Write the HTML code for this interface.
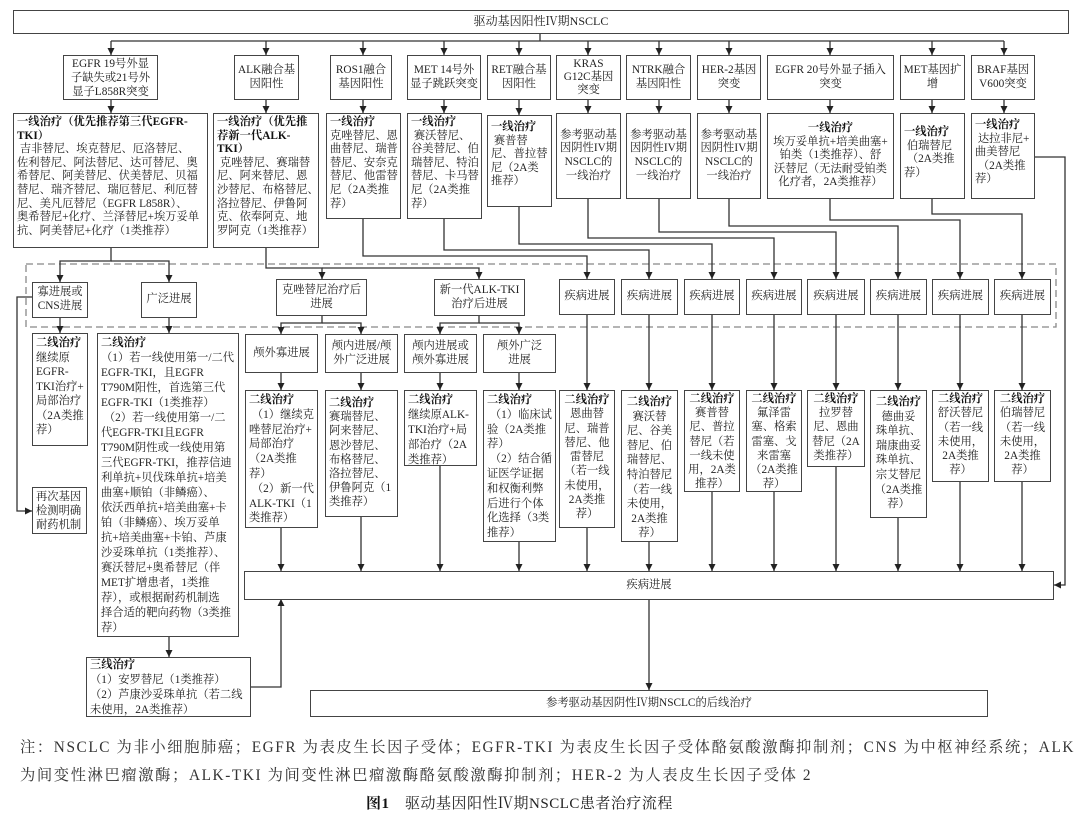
<!DOCTYPE html>
<html><head><meta charset="utf-8">
<style>
body{margin:0;width:1080px;height:818px;background:#fff;position:relative;overflow:hidden;font-family:"Liberation Serif","Noto Serif CJK SC","Noto Sans CJK SC",serif;color:#222}
.b{position:absolute;box-sizing:border-box;border:1.3px solid #444;background:#fff;font-size:11.3px;line-height:13.6px;padding:2px 3px;white-space:nowrap;overflow:hidden}
.c{text-align:center;display:flex;flex-direction:column;justify-content:center;align-items:center}
.t{text-align:center}
b{font-weight:bold;color:#111}
svg{position:absolute;left:0;top:0}
.n{position:absolute;left:20px;font-size:15.3px;white-space:nowrap;color:#333;letter-spacing:1.6px}
</style></head><body>
<svg width="1080" height="818">
<defs><marker id="a" markerWidth="8" markerHeight="8" refX="7" refY="4" orient="auto" markerUnits="userSpaceOnUse"><path d="M0,0.5 L7,4 L0,7.5 z" fill="#222"/></marker></defs>
<g stroke="#333" stroke-width="1.3" fill="none">
<rect x="26" y="264" width="1030" height="63" stroke="#888" stroke-dasharray="7,4"/>
<path d="M540 33V41M111 41H1004"/>
<g marker-end="url(#a)">
<path d="M111 41V55"/><path d="M266 41V55"/><path d="M363 41V55"/><path d="M444 41V55"/><path d="M519 41V55"/><path d="M588 41V55"/><path d="M659 41V55"/><path d="M729 41V55"/><path d="M830 41V55"/><path d="M932 41V55"/><path d="M1004 41V55"/>
<path d="M111 99V113"/><path d="M266 99V113"/><path d="M363 99V113"/><path d="M444 99V113"/><path d="M519 99V115"/><path d="M588 99V113"/><path d="M659 99V113"/><path d="M729 99V113"/><path d="M830 99V113"/><path d="M932 99V113"/><path d="M1004 99V113"/>
<path d="M111 248V261H60V282"/><path d="M111 261H169V282"/>
<path d="M266 248V268H322V279"/><path d="M322 268H479V279"/>
<path d="M60 318V333"/><path d="M169 318V333"/>
<path d="M32 297H17V511H32"/>
<path d="M322 316V323H281V334"/><path d="M322 323H361V334"/>
<path d="M479 316V323H440V334"/><path d="M479 323H519V334"/>
<path d="M281 373V390"/><path d="M361 373V390"/><path d="M440 373V390"/><path d="M519 373V390"/>
<path d="M281 528V571"/><path d="M361 517V571"/><path d="M440 466V571"/><path d="M519 542V571"/>
<path d="M169 637V657"/>
<path d="M251 687H281V599"/>
<path d="M363 219V256H587V279"/><path d="M444 219V250H649V279"/><path d="M519 207V244H712V279"/><path d="M588 199V238H774V279"/><path d="M659 199V232H836V279"/><path d="M729 199V226H898V279"/><path d="M830 199V220H960V279"/><path d="M932 199V214H1022V279"/>
<path d="M587 315V390"/><path d="M649 315V390"/><path d="M712 315V390"/><path d="M774 315V390"/><path d="M836 315V390"/><path d="M898 315V390"/><path d="M960 315V390"/><path d="M1022 315V390"/>
<path d="M587 528V571"/><path d="M649 542V571"/><path d="M712 492V571"/><path d="M774 492V571"/><path d="M836 467V571"/><path d="M898 518V571"/><path d="M960 482V571"/><path d="M1022 482V571"/>
<path d="M1035 157H1065V585H1054"/>
<path d="M649 599V690"/>
</g></g></svg>

<div class="b c" style="left:13px;top:10px;width:1056px;height:24px;font-size:12px">驱动基因阳性Ⅳ期NSCLC</div>

<div class="b c" style="left:63px;top:55px;width:95px;height:45px;line-height:14px">EGFR 19号外显<br>子缺失或21号外<br>显子L858R突变</div>
<div class="b c" style="left:234px;top:55px;width:65px;height:45px">ALK融合基<br>因阳性</div>
<div class="b c" style="left:330px;top:55px;width:62px;height:45px">ROS1融合<br>基因阳性</div>
<div class="b c" style="left:407px;top:55px;width:74px;height:45px">MET 14号外<br>显子跳跃突变</div>
<div class="b c" style="left:487px;top:55px;width:64px;height:45px">RET融合基<br>因阳性</div>
<div class="b c" style="left:556px;top:55px;width:65px;height:45px;line-height:13px">KRAS<br>G12C基因<br>突变</div>
<div class="b c" style="left:626px;top:55px;width:65px;height:45px">NTRK融合<br>基因阳性</div>
<div class="b c" style="left:697px;top:55px;width:64px;height:45px">HER-2基因<br>突变</div>
<div class="b c" style="left:767px;top:55px;width:127px;height:45px">EGFR 20号外显子插入<br>突变</div>
<div class="b c" style="left:900px;top:55px;width:65px;height:45px">MET基因扩<br>增</div>
<div class="b c" style="left:971px;top:55px;width:64px;height:45px">BRAF基因<br>V600突变</div>

<div class="b" style="left:13px;top:113px;width:195px;height:135px"><b>一线治疗（优先推荐第三代EGFR-<br>TKI）</b><br>&nbsp;吉非替尼、埃克替尼、厄洛替尼、<br>佐利替尼、阿法替尼、达可替尼、奥<br>希替尼、阿美替尼、伏美替尼、贝福<br>替尼、瑞齐替尼、瑞厄替尼、利厄替<br>尼、美凡厄替尼（EGFR L858R）、<br>奥希替尼+化疗、兰泽替尼+埃万妥单<br>抗、阿美替尼+化疗（1类推荐）</div>
<div class="b" style="left:213px;top:113px;width:106px;height:135px"><b>一线治疗（优先推<br>荐新一代ALK-<br>TKI）</b><br>&nbsp;克唑替尼、赛瑞替<br>尼、阿来替尼、恩<br>沙替尼、布格替尼、<br>洛拉替尼、伊鲁阿<br>克、依奉阿克、地<br>罗阿克（1类推荐）</div>
<div class="b" style="left:326px;top:113px;width:75px;height:106px"><b>一线治疗</b><br>克唑替尼、恩<br>曲替尼、瑞普<br>替尼、安奈克<br>替尼、他雷替<br>尼（2A类推<br>荐）</div>
<div class="b" style="left:407px;top:113px;width:75px;height:106px"><b>一线治疗</b><br>&nbsp;赛沃替尼、<br>谷美替尼、伯<br>瑞替尼、特泊<br>替尼、卡马替<br>尼（2A类推<br>荐）</div>
<div class="b" style="left:487px;top:115px;width:65px;height:92px;padding-top:5px"><b>一线治疗</b><br>&nbsp;赛普替<br>尼、普拉替<br>尼（2A类<br>推荐）</div>
<div class="b c" style="left:556px;top:113px;width:65px;height:86px">参考驱动基<br>因阴性IV期<br>NSCLC的<br>一线治疗</div>
<div class="b c" style="left:626px;top:113px;width:65px;height:86px">参考驱动基<br>因阴性IV期<br>NSCLC的<br>一线治疗</div>
<div class="b c" style="left:697px;top:113px;width:64px;height:86px">参考驱动基<br>因阴性IV期<br>NSCLC的<br>一线治疗</div>
<div class="b c" style="left:767px;top:113px;width:127px;height:86px"><b>一线治疗</b>埃万妥单抗+培美曲塞+<br>铂类（1类推荐）、舒<br>沃替尼（无法耐受铂类<br>化疗者，2A类推荐）</div>
<div class="b" style="left:900px;top:113px;width:65px;height:86px;padding-top:12px"><b>一线治疗</b><br>&nbsp;伯瑞替尼<br>&nbsp;（2A类推<br>荐）</div>
<div class="b" style="left:971px;top:113px;width:64px;height:86px;padding-top:5px"><b>一线治疗</b><br>&nbsp;达拉非尼+<br>曲美替尼<br>&nbsp;（2A类推<br>荐）</div>

<div class="b c" style="left:32px;top:282px;width:56px;height:36px">寡进展或<br>CNS进展</div>
<div class="b c" style="left:141px;top:282px;width:56px;height:36px">广泛进展</div>
<div class="b c" style="left:276px;top:279px;width:91px;height:37px">克唑替尼治疗后<br>进展</div>
<div class="b c" style="left:434px;top:279px;width:91px;height:37px">新一代ALK-TKI<br>治疗后进展</div>
<div class="b c" style="left:559px;top:279px;width:56px;height:36px">疾病进展</div>
<div class="b c" style="left:621px;top:279px;width:57px;height:36px">疾病进展</div>
<div class="b c" style="left:684px;top:279px;width:56px;height:36px">疾病进展</div>
<div class="b c" style="left:746px;top:279px;width:56px;height:36px">疾病进展</div>
<div class="b c" style="left:807px;top:279px;width:58px;height:36px">疾病进展</div>
<div class="b c" style="left:870px;top:279px;width:57px;height:36px">疾病进展</div>
<div class="b c" style="left:932px;top:279px;width:57px;height:36px">疾病进展</div>
<div class="b c" style="left:994px;top:279px;width:57px;height:36px">疾病进展</div>

<div class="b c" style="left:245px;top:334px;width:73px;height:39px">颅外寡进展</div>
<div class="b c" style="left:325px;top:334px;width:73px;height:39px">颅内进展/颅<br>外广泛进展</div>
<div class="b c" style="left:404px;top:334px;width:73px;height:39px">颅内进展或<br>颅外寡进展</div>
<div class="b c" style="left:483px;top:334px;width:73px;height:39px">颅外广泛<br>进展</div>

<div class="b" style="left:32px;top:333px;width:56px;height:113px;line-height:14.5px"><b>二线治疗</b><br>继续原<br>EGFR-<br>TKI治疗+<br>局部治疗<br>（2A类推<br>荐）</div>
<div class="b" style="left:97px;top:333px;width:142px;height:304px;line-height:15px"><b>二线治疗</b><br>（1）若一线使用第一/二代<br>EGFR-TKI，且EGFR<br>T790M阳性，首选第三代<br>EGFR-TKI（1类推荐）<br>&nbsp;（2）若一线使用第一/二<br>代EGFR-TKI且EGFR<br>T790M阴性或一线使用第<br>三代EGFR-TKI，推荐信迪<br>利单抗+贝伐珠单抗+培美<br>曲塞+顺铂（非鳞癌）、<br>依沃西单抗+培美曲塞+卡<br>铂（非鳞癌）、埃万妥单<br>抗+培美曲塞+卡铂、芦康<br>沙妥珠单抗（1类推荐）、<br>赛沃替尼+奥希替尼（伴<br>MET扩增患者，1类推<br>荐），或根据耐药机制选<br>择合适的靶向药物（3类推<br>荐）</div>
<div class="b" style="left:32px;top:487px;width:55px;height:47px;line-height:14px">再次基因<br>检测明确<br>耐药机制</div>
<div class="b" style="left:86px;top:657px;width:165px;height:60px;line-height:15px;padding-top:0"><b>三线治疗</b><br>（1）安罗替尼（1类推荐）<br>（2）芦康沙妥珠单抗（若二线<br>未使用，2A类推荐）</div>

<div class="b" style="left:245px;top:390px;width:73px;height:138px;line-height:14.8px"><b>二线治疗</b><br>&nbsp;（1）继续克<br>唑替尼治疗+<br>局部治疗<br>（2A类推<br>荐）<br>&nbsp;（2）新一代<br>ALK-TKI（1<br>类推荐）</div>
<div class="b" style="left:325px;top:390px;width:73px;height:127px;line-height:14.2px;padding-top:5px"><b>二线治疗</b><br>赛瑞替尼、<br>阿来替尼、<br>恩沙替尼、<br>布格替尼、<br>洛拉替尼、<br>伊鲁阿克（1<br>类推荐）</div>
<div class="b" style="left:404px;top:390px;width:73px;height:76px;line-height:15px"><b>二线治疗</b><br>继续原ALK-<br>TKI治疗+局<br>部治疗（2A<br>类推荐）</div>
<div class="b" style="left:483px;top:390px;width:73px;height:152px;line-height:14.8px"><b>二线治疗</b><br>&nbsp;（1）临床试<br>验（2A类推<br>荐）<br>&nbsp;（2）结合循<br>证医学证据<br>和权衡利弊<br>后进行个体<br>化选择（3类<br>推荐）</div>

<div class="b t" style="left:559px;top:390px;width:56px;height:138px;line-height:14.3px;padding:2px 1px"><b>二线治疗</b><br>恩曲替<br>尼、瑞普<br>替尼、他<br>雷替尼<br>（若一线<br>未使用，<br>2A类推<br>荐）</div>
<div class="b t" style="left:621px;top:390px;width:57px;height:152px;line-height:14.6px;padding:4px 1px"><b>二线治疗</b><br>赛沃替<br>尼、谷美<br>替尼、伯<br>瑞替尼、<br>特泊替尼<br>（若一线<br>未使用，<br>2A类推<br>荐）</div>
<div class="b t" style="left:684px;top:390px;width:56px;height:102px;line-height:14.2px;padding:1px 1px"><b>二线治疗</b><br>赛普替<br>尼、普拉<br>替尼（若<br>一线未使<br>用，2A类<br>推荐）</div>
<div class="b t" style="left:746px;top:390px;width:56px;height:102px;line-height:14.2px;padding:1px 1px"><b>二线治疗</b><br>氟泽雷<br>塞、格索<br>雷塞、戈<br>来雷塞<br>（2A类推<br>荐）</div>
<div class="b t" style="left:807px;top:390px;width:58px;height:77px;line-height:14.2px;padding:1px 1px"><b>二线治疗</b><br>拉罗替<br>尼、恩曲<br>替尼（2A<br>类推荐）</div>
<div class="b t" style="left:870px;top:390px;width:57px;height:128px;line-height:14.6px;padding:4px 1px"><b>二线治疗</b><br>德曲妥<br>珠单抗、<br>瑞康曲妥<br>珠单抗、<br>宗艾替尼<br>（2A类推<br>荐）</div>
<div class="b t" style="left:932px;top:390px;width:57px;height:92px;line-height:14.3px;padding:1px 1px"><b>二线治疗</b><br>舒沃替尼<br>（若一线<br>未使用，<br>2A类推<br>荐）</div>
<div class="b t" style="left:994px;top:390px;width:57px;height:92px;line-height:14.3px;padding:1px 1px"><b>二线治疗</b><br>伯瑞替尼<br>（若一线<br>未使用，<br>2A类推<br>荐）</div>

<div class="b c" style="left:244px;top:571px;width:810px;height:29px">疾病进展</div>
<div class="b c" style="left:310px;top:690px;width:678px;height:27px">参考驱动基因阴性Ⅳ期NSCLC的后线治疗</div>

<div class="n" style="top:735px">注：NSCLC 为非小细胞肺癌；EGFR 为表皮生长因子受体；EGFR-TKI 为表皮生长因子受体酪氨酸激酶抑制剂；CNS 为中枢神经系统；ALK</div>
<div class="n" style="top:763px">为间变性淋巴瘤激酶；ALK-TKI 为间变性淋巴瘤激酶酪氨酸激酶抑制剂；HER-2 为人表皮生长因子受体 2</div>
<div class="n" style="top:792px;left:366px;font-size:15px;color:#222;letter-spacing:0.5px"><b>图1</b>　驱动基因阳性Ⅳ期NSCLC患者治疗流程</div>
</body></html>
